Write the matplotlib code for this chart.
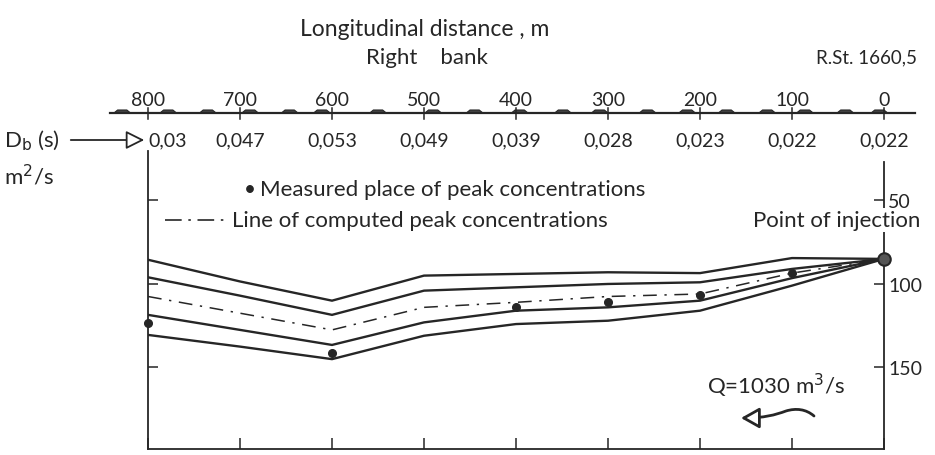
import matplotlib
matplotlib.use("Agg")
import matplotlib.pyplot as plt
from matplotlib.lines import Line2D
from matplotlib.patches import Polygon, FancyArrowPatch
from matplotlib.path import Path
import matplotlib.transforms as mtransforms
from matplotlib import font_manager

# ---------------- data ----------------
stations = [800, 700, 600, 500, 400, 300, 200, 100, 0]
db_values = ["0,03", "0,047", "0,053", "0,049", "0,039", "0,028", "0,023", "0,022", "0,022"]
station_labels = ["800", "700", "600", "500", "400", "300", "200", "100", "0"]

band_outer_upper = [85.5, 98.5, 110, 95, 94, 93, 93.5, 84.5, 85]
band_inner_upper = [96, 107, 118.5, 104, 102, 100, 99, 91, 85]
computed_peak = [107.5, 117.5, 127.5, 114, 111, 107.5, 106, 93.5, 85]
band_inner_lower = [118.5, 127.5, 136.5, 123, 116, 114, 110, 96.5, 85]
band_outer_lower = [130.5, 137.5, 145, 131, 124, 122, 116, 101, 85]

measured_x = [800, 600, 400, 300, 200, 100]
measured_y = [123.5, 141.5, 114, 110.5, 106.5, 93.5]
injection_x = [0]
injection_y = [85]

y_ticks = [50, 100, 150]

# bank bump centres (m) on the top bank line
bank_bumps = [828, 778, 735, 689, 646, 611, 550, 490, 445, 396, 349, 309, 257, 214, 171, 127, 86, 42, 5]

# ---------------- style ----------------
W, H = 935, 456
avail = {f.name for f in font_manager.fontManager.ttflist}
fam = "DejaVu Sans"
for cand in ["Lato", "Open Sans", "Roboto"]:
    if cand in avail:
        fam = cand
        break
plt.rcParams["font.family"] = [fam, "DejaVu Sans"]
INK = "#262626"
FS_TXT = 16
FS_NUM = 14

fig = plt.figure(figsize=(W / 100, H / 100), dpi=100)

def fx(px):
    return px / W

def fy(py):
    return 1 - py / H

# main axes: x 148..884 px, y 152..450 px
ax = fig.add_axes([fx(148), fy(450), fx(884) - fx(148), fy(152) - fy(450)])
ax.set_xlim(800, 0)
ax.set_ylim(198.8, 20.4)

for yv in (band_outer_upper, band_inner_upper, band_inner_lower, band_outer_lower):
    ax.plot(stations, yv, color=INK, lw=1.7, solid_joinstyle="miter")
ax.plot(stations, computed_peak, color=INK, lw=1.1, dashes=[9, 5, 1.5, 5])
ax.plot(measured_x, measured_y, "o", color=INK, ms=5.5, clip_on=False, zorder=5)
ax.plot(injection_x, injection_y, "o", mfc="#555555", mec=INK, mew=1.5, ms=9, clip_on=False, zorder=5)

ax.spines["top"].set_visible(False)
for s in ("left", "right", "bottom"):
    ax.spines[s].set_linewidth(1.3)
    ax.spines[s].set_color(INK)
ax.spines["right"].set_bounds(198.8, 27)
ax.set_xticks(stations)
ax.set_yticks(y_ticks)
ax.set_yticklabels([str(v) for v in y_ticks])
ax.tick_params(axis="x", direction="in", length=8, width=1.1, labelbottom=False, color=INK)
ax.tick_params(axis="y", direction="in", length=7, width=1.1, left=True, right=True,
               labelleft=False, labelright=True, labelsize=FS_NUM, pad=3, color=INK, labelcolor=INK)

# bank axes: line at px 114
axb = fig.add_axes([fx(148), fy(124), fx(884) - fx(148), fy(104) - fy(124)])
axb.set_xlim(800, 0)
axb.set_ylim(0, 1)
axb.axis("off")
axb.plot([841, -34], [0.5, 0.5], color=INK, lw=1.6, clip_on=False)
for c in bank_bumps:
    axb.add_patch(Polygon([[c + 9, 0.5], [c + 5, 0.65], [c - 5, 0.65], [c - 9, 0.5]],
                          closed=True, fc="#444444", ec=INK, lw=0.8, clip_on=False))
for s in stations:
    axb.plot([s, s], [0.2, 0.75], color=INK, lw=1.1, clip_on=False)

tr = mtransforms.blended_transform_factory(ax.transData, fig.transFigure)
for s, lab in zip(stations, station_labels):
    fig.text(s, fy(100), lab, transform=tr, ha="center", va="center", fontsize=FS_NUM, color=INK)
for i, (s, lab) in enumerate(zip(stations, db_values)):
    if i == 0:
        fig.text(s, fy(141), lab, transform=tr, ha="left", va="center", fontsize=FS_NUM, color=INK)
    else:
        fig.text(s, fy(141), lab, transform=tr, ha="center", va="center", fontsize=FS_NUM, color=INK)

fig.text(fx(425), fy(30), "Longitudinal distance , m", ha="center", va="center", fontsize=16.5, color=INK)
fig.text(fx(427), fy(58), "Right    bank", ha="center", va="center", fontsize=FS_TXT, color=INK)
fig.text(fx(917), fy(58), "R.St. 1660,5", ha="right", va="center", fontsize=13.5, color=INK)

fig.text(fx(4), fy(141), r"D$_\mathrm{b}$ (s)", ha="left", va="center", fontsize=FS_TXT, color=INK)
fig.text(fx(4), fy(176), r"m$^2$/s", ha="left", va="center", fontsize=FS_TXT, color=INK)
fig.add_artist(FancyArrowPatch((fx(68), fy(141)), (fx(147), fy(141)), transform=fig.transFigure,
                               arrowstyle="-|>,head_length=0.8,head_width=0.4", mutation_scale=14,
                               fc="white", ec=INK, lw=1.3))

# legend-like annotations
fig.text(fx(250), fy(190), "\u2022", ha="center", va="center", fontsize=15, color=INK)
fig.text(fx(260), fy(190), "Measured place of peak concentrations", ha="left", va="center", fontsize=FS_TXT, color=INK)
fig.add_artist(Line2D([fx(165), fx(226)], [fy(221), fy(221)], transform=fig.transFigure,
                      color=INK, lw=1.2, dashes=[10, 4, 1.5, 4]))
fig.text(fx(232), fy(221), "Line of computed peak concentrations", ha="left", va="center", fontsize=FS_TXT, color=INK)
fig.text(fx(920), fy(221), "Point of injection", ha="right", va="center", fontsize=FS_TXT, color=INK,
         zorder=10, bbox=dict(facecolor="white", edgecolor="none", pad=1.5))

fig.text(fx(707), fy(386), r"Q=1030 m$^3$/s", ha="left", va="center", fontsize=FS_TXT, color=INK)
verts = [(fx(814), fy(417)), (fx(806), fy(410)), (fx(796), fy(409)), (fx(786), fy(412)),
         (fx(775), fy(416)), (fx(764), fy(419)), (fx(741), fy(419))]
codes = [Path.MOVETO, Path.CURVE4, Path.CURVE4, Path.CURVE4, Path.CURVE4, Path.CURVE4, Path.CURVE4]
fig.add_artist(FancyArrowPatch(path=Path(verts, codes), transform=fig.transFigure,
                               arrowstyle="-|>,head_length=0.8,head_width=0.45", mutation_scale=14,
                               fc="white", ec=INK, lw=2.0))

fig.savefig("out.png", dpi=100)
